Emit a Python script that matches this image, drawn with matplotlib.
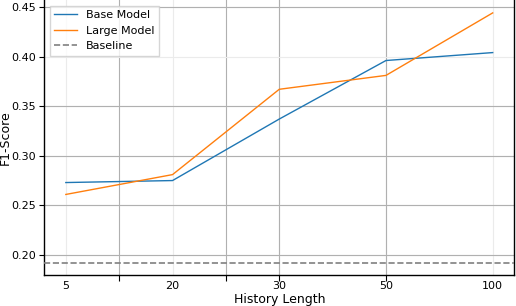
import matplotlib
matplotlib.use("Agg")
import matplotlib.pyplot as plt

history = ["5", "20", "30", "50", "100"]
base_model = [0.273, 0.275, 0.337, 0.396, 0.404]
large_model = [0.261, 0.281, 0.367, 0.381, 0.444]
baseline = 0.192

y_labeled = [0.20, 0.25, 0.30, 0.35, 0.40, 0.45]
y_dark = [0.20, 0.25, 0.30, 0.35, 0.45]
x_dark = [0.5, 1.5, 2, 3]

fig = plt.figure(figsize=(5.16, 3.06), dpi=100)
ax = fig.add_axes([0.0862, 0.1013, 0.9100, 0.8987])

pos = list(range(len(history)))
ax.plot(pos, base_model, color="#1f77b4", lw=1.0, label="Base Model", zorder=3)
ax.plot(pos, large_model, color="#ff7f0e", lw=1.0, label="Large Model", zorder=3)
ax.axhline(baseline, color="#808080", ls="--", lw=1.2, label="Baseline", zorder=3)

ax.set_xlim(-0.2, 4.2)
ax.set_ylim(0.1798, 0.457)

ax.xaxis.remove_overlapping_locs = False
ax.yaxis.remove_overlapping_locs = False

ax.set_xticks(pos, labels=history)
ax.set_xticks(x_dark, minor=True)
ax.tick_params(axis="x", which="major", length=0, labelsize=8, pad=4)
ax.tick_params(axis="x", which="minor", length=4, width=0.8)

ax.set_yticks(y_labeled, labels=[f"{v:.2f}" for v in y_labeled])
ax.set_yticks(y_dark, minor=True)
ax.tick_params(axis="y", which="major", length=3.5, width=0.8, labelsize=8, pad=2.5)
ax.tick_params(axis="y", which="minor", length=0)

ax.set_axisbelow(True)
ax.grid(which="major", color="#ebebeb", lw=0.8)
ax.grid(which="minor", color="#b0b0b0", lw=0.8)

for s in ["left", "bottom", "right"]:
    ax.spines[s].set_linewidth(1.0)
    ax.spines[s].set_color("black")
ax.spines["top"].set_visible(False)

ax.set_xlabel("History Length", fontsize=9, labelpad=2)
ax.set_ylabel("F1-Score", fontsize=9)
ax.yaxis.set_label_coords(-0.07, 0.5)

ax.legend(loc="upper left", fontsize=8, frameon=True, fancybox=False,
          edgecolor="#cccccc", borderaxespad=0.5)

fig.savefig("out.png", dpi=100)
